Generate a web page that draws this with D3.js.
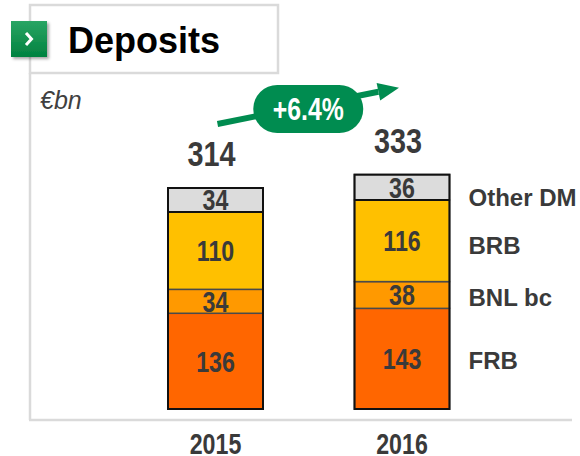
<!DOCTYPE html>
<html>
<head>
<meta charset="utf-8">
<script src="https://cdn.jsdelivr.net/npm/d3@7"></script>
<style>
  html, body { margin: 0; padding: 0; background: #fff; }
  svg { display: block; }
</style>
</head>
<body>
<svg id="chart"></svg>
<script>
// data
const years = ["2015", "2016"];
const seriesNames = ["FRB", "BNL bc", "BRB", "Other DM"];
const frbValues = [136, 143];
const bnlValues = [34, 38];
const brbValues = [110, 116];
const otherValues = [34, 36];
const totals = [314, 333];
const growthLabel = "+6.4%";
const unitLabel = "€bn";
const title = "Deposits";

const colors = ["#ff6600", "#ff9900", "#ffc000", "#dcdcdc"];

const W = 580, H = 456;
const font = "'Liberation Sans', Arial, sans-serif";
const squeeze = 0.8;   // no narrow face installed, so squeeze the regular bold one
const ink = "#3a3a3a";

let svg = d3.select("#chart").attr("width", W).attr("height", H);

// table for the stack
let rows = years.map((y, i) => ({
    year: y,
    "FRB": frbValues[i],
    "BNL bc": bnlValues[i],
    "BRB": brbValues[i],
    "Other DM": otherValues[i]
}));
let stacked = d3.stack().keys(seriesNames)(rows);

let x = d3.scalePoint().domain(years).range([215.5, 402]);
let y = d3.scaleLinear().domain([0, 314]).range([409, 188]);
const barWidth = 95;

let at = (px, py) => `translate(${px},${py}) scale(${squeeze},1)`;

// frame
let defs = svg.append("defs");
let grad = defs.append("linearGradient").attr("id", "sq").attr("x1", 0).attr("y1", 0).attr("x2", 0).attr("y2", 1);
grad.append("stop").attr("offset", "0%").attr("stop-color", "#2aa564");
grad.append("stop").attr("offset", "100%").attr("stop-color", "#00813f");
let sh = defs.append("filter").attr("id", "shadow").attr("x", "-30%").attr("y", "-30%").attr("width", "170%").attr("height", "170%");
sh.append("feDropShadow").attr("dx", 2).attr("dy", 2).attr("stdDeviation", 1.5).attr("flood-color", "#000").attr("flood-opacity", 0.35);

const frameColor = "#dadada";
svg.append("rect")
    .attr("x", 30).attr("y", 5).attr("width", 248).attr("height", 68)
    .attr("fill", "#fff").attr("stroke", frameColor).attr("stroke-width", 2.5);
svg.append("line")
    .attr("x1", 30).attr("x2", 30).attr("y1", 73).attr("y2", 420)
    .attr("stroke", frameColor).attr("stroke-width", 2.5);
svg.append("line")
    .attr("x1", 29).attr("x2", 572).attr("y1", 420).attr("y2", 420)
    .attr("stroke", frameColor).attr("stroke-width", 2.5);

svg.append("rect")
    .attr("x", 11).attr("y", 21).attr("width", 36).attr("height", 36)
    .attr("fill", "url(#sq)").attr("filter", "url(#shadow)");
svg.append("path")
    .attr("d", "M27,34 L31.5,39 L27,44")
    .attr("fill", "none").attr("stroke", "#fff").attr("stroke-width", 3)
    .attr("stroke-linecap", "square");

svg.append("text")
    .attr("x", 68).attr("y", 53)
    .attr("font-family", font).attr("font-weight", "bold").attr("font-size", 36)
    .attr("fill", "#000").text(title);

svg.append("text")
    .attr("x", 40).attr("y", 109)
    .attr("font-family", font).attr("font-style", "italic").attr("font-size", 25)
    .attr("fill", "#404040").text(unitLabel);

// bars
let layers = svg.selectAll("g.layer")
    .data(stacked)
    .enter()
    .append("g")
    .attr("class", "layer")
    .attr("fill", (d, i) => colors[i]);

layers.selectAll("rect")
    .data(d => d)
    .enter()
    .append("rect")
    .attr("x", d => x(d.data.year) - barWidth / 2)
    .attr("y", d => y(d[1]))
    .attr("width", barWidth)
    .attr("height", d => y(d[0]) - y(d[1]))
    .attr("stroke", "#4a4a4a")
    .attr("stroke-width", 1.5);

// outer outline of each bar
svg.selectAll("rect.outline")
    .data(years)
    .enter()
    .append("rect")
    .attr("class", "outline")
    .attr("x", d => x(d) - barWidth / 2)
    .attr("y", (d, i) => y(totals[i]))
    .attr("width", barWidth)
    .attr("height", (d, i) => y(0) - y(totals[i]))
    .attr("fill", "none")
    .attr("stroke", "#111")
    .attr("stroke-width", 2);

// line between other and BRB is dark
svg.selectAll("line.cap")
    .data(rows)
    .enter()
    .append("line")
    .attr("x1", d => x(d.year) - barWidth / 2)
    .attr("x2", d => x(d.year) + barWidth / 2)
    .attr("y1", (d, i) => y(totals[i] - otherValues[i]))
    .attr("y2", (d, i) => y(totals[i] - otherValues[i]))
    .attr("stroke", "#111").attr("stroke-width", 2);

// segment values
layers.selectAll("text")
    .data(d => d)
    .enter()
    .append("text")
    .attr("transform", d => at(x(d.data.year), (y(d[0]) + y(d[1])) / 2))
    .attr("dy", "0.36em")
    .attr("text-anchor", "middle")
    .attr("font-family", font).attr("font-weight", "bold").attr("font-size", 29)
    .attr("fill", ink)
    .text(d => d[1] - d[0]);

// totals
svg.selectAll("text.total")
    .data(totals)
    .enter()
    .append("text")
    .attr("class", "total")
    .attr("transform", (d, i) => at(x(years[i]) - 4, y(d) - 22))
    .attr("text-anchor", "middle")
    .attr("font-family", font).attr("font-weight", "bold").attr("font-size", 36)
    .attr("fill", ink)
    .text(d => d);

// years
svg.selectAll("text.year")
    .data(years)
    .enter()
    .append("text")
    .attr("class", "year")
    .attr("transform", d => at(x(d), 454))
    .attr("text-anchor", "middle")
    .attr("font-family", font).attr("font-weight", "bold").attr("font-size", 29)
    .attr("fill", ink)
    .text(d => d);

// legend beside the 2016 bar
let last = stacked.map(s => s[s.length - 1]);
let legendShift = [2, 2, 5, 10];
svg.selectAll("text.legend")
    .data(seriesNames)
    .enter()
    .append("text")
    .attr("class", "legend")
    .attr("x", x(years[1]) + barWidth / 2 + 19)
    .attr("y", (d, i) => (y(last[i][0]) + y(last[i][1])) / 2 + legendShift[i])
    .attr("dy", "0.36em")
    .attr("font-family", font).attr("font-weight", "bold").attr("font-size", 24)
    .attr("fill", ink)
    .text(d => d);

// growth arrow
const green = "#008c50";
let x0 = x(years[0]) + 2, y0 = y(totals[0]) - 64;
let x1 = x(years[1]) - 3, y1 = y(totals[1]) - 87;
let ang = Math.atan2(y1 - y0, x1 - x0);
let headLen = 21, headHalf = 9;
let bx = x1 - headLen * Math.cos(ang), by = y1 - headLen * Math.sin(ang);
svg.append("line")
    .attr("x1", x0).attr("y1", y0).attr("x2", bx).attr("y2", by)
    .attr("stroke", green).attr("stroke-width", 6);
svg.append("path")
    .attr("d", d3.line()([
        [x1, y1],
        [bx + headHalf * Math.sin(ang), by - headHalf * Math.cos(ang)],
        [bx - headHalf * Math.sin(ang), by + headHalf * Math.cos(ang)]
    ]) + "Z")
    .attr("fill", green);

let pillX = (x0 + x1) / 2, pillY = 109;
svg.append("rect")
    .attr("x", pillX - 55).attr("y", pillY - 24)
    .attr("width", 110).attr("height", 48)
    .attr("rx", 24).attr("ry", 24)
    .attr("fill", green);
svg.append("text")
    .attr("transform", at(pillX, pillY))
    .attr("dy", "0.36em")
    .attr("text-anchor", "middle")
    .attr("font-family", font).attr("font-weight", "bold").attr("font-size", 31)
    .attr("fill", "#fff")
    .text(growthLabel);
</script>
</body>
</html>
